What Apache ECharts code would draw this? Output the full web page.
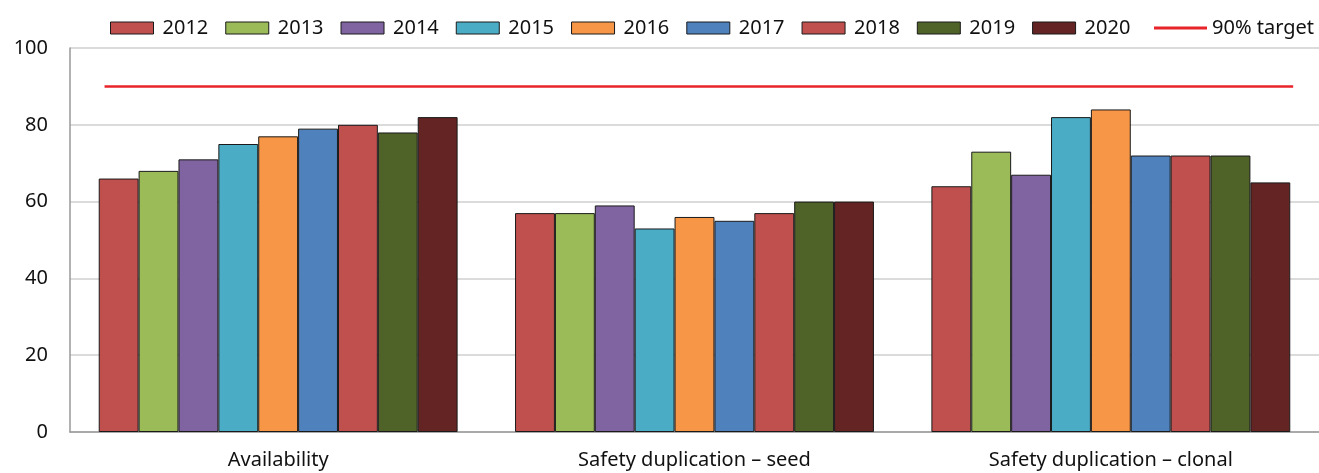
<!DOCTYPE html>
<html>
<head>
<meta charset="utf-8">
<script src="https://cdn.jsdelivr.net/npm/echarts@6/dist/echarts.min.js"></script>
<style>
  html, body { margin: 0; padding: 0; background: #fff; }
  #chart { width: 1319px; height: 473px; }
</style>
</head>
<body>
<div id="chart"></div>
<script>
// categories on the x axis
const categories = ['Availability', 'Safety duplication \u2013 seed', 'Safety duplication \u2013 clonal'];
const years = ['2012', '2013', '2014', '2015', '2016', '2017', '2018', '2019', '2020'];

// values per year: [availability, seed, clonal]
const v2012 = [66, 57, 64];
const v2013 = [68, 57, 73];
const v2014 = [71, 59, 67];
const v2015 = [75, 53, 82];
const v2016 = [77, 56, 84];
const v2017 = [79, 55, 72];
const v2018 = [80, 57, 72];
const v2019 = [78, 60, 72];
const v2020 = [82, 60, 65];
const yearValues = [v2012, v2013, v2014, v2015, v2016, v2017, v2018, v2019, v2020];

// 90% target line, drawn from first bar to last bar (in category units)
const targetValue = 90;
const targetFrom = 0.083;
const targetTo = 2.938;

const yTicks = [0, 20, 40, 60, 80, 100];

const colors = ['#C0504D', '#9BBB59', '#8064A2', '#4BACC6', '#F79646', '#4F81BD', '#C0504D', '#4F6228', '#632423'];
const font = '"Noto Sans", "Open Sans", sans-serif';

const chart = echarts.init(document.getElementById('chart'));

let series = years.map((y, i) => ({
  name: y,
  type: 'bar',
  data: yearValues[i],
  barGap: '0%',
  barCategoryGap: '13.8%',
  itemStyle: { color: colors[i], borderColor: '#1a1a1a', borderWidth: 1 },
  emphasis: { disabled: true },
  animation: false
}));

series.push({
  name: '90% target',
  type: 'line',
  xAxisIndex: 1,
  data: [[targetFrom, targetValue], [targetTo, targetValue]],
  symbol: 'none',
  lineStyle: { color: '#E8232A', width: 2.5 },
  itemStyle: { color: '#E8232A' },
  animation: false
});

chart.setOption({
  backgroundColor: '#fff',
  textStyle: { fontFamily: font },
  legend: [{
    data: years,
    left: 105,
    top: 13,
    itemWidth: 43,
    itemHeight: 12,
    itemGap: 17,
    icon: 'rect',
    itemStyle: { borderColor: '#1a1a1a', borderWidth: 1 },
    textStyle: { fontSize: 20, color: '#111', fontFamily: font, padding: [0, 0, 0, 4] }
  }, {
    data: [{ name: '90% target', icon: 'rect' }],
    left: 1149,
    top: 13,
    itemWidth: 53,
    itemHeight: 3,
    textStyle: { fontSize: 20, color: '#111', fontFamily: font }
  }],
  grid: { left: 70, right: 0, top: 48, bottom: 41, containLabel: false },
  xAxis: [{
    type: 'category',
    data: categories,
    axisLine: { lineStyle: { color: '#999', width: 1.5 } },
    axisTick: { show: false },
    axisLabel: { fontSize: 20, color: '#111', margin: 18, fontFamily: font }
  }, {
    type: 'value',
    min: 0,
    max: 3,
    show: false
  }],
  yAxis: {
    type: 'value',
    min: yTicks[0],
    max: yTicks[yTicks.length - 1],
    interval: 20,
    axisLine: { show: true, lineStyle: { color: '#999', width: 1.5 } },
    axisTick: { show: false },
    axisLabel: { fontSize: 20, color: '#111', margin: 22, fontFamily: font },
    splitLine: { lineStyle: { color: '#cfcfcf', width: 1.5 } }
  },
  series: series
});
</script>
</body>
</html>
